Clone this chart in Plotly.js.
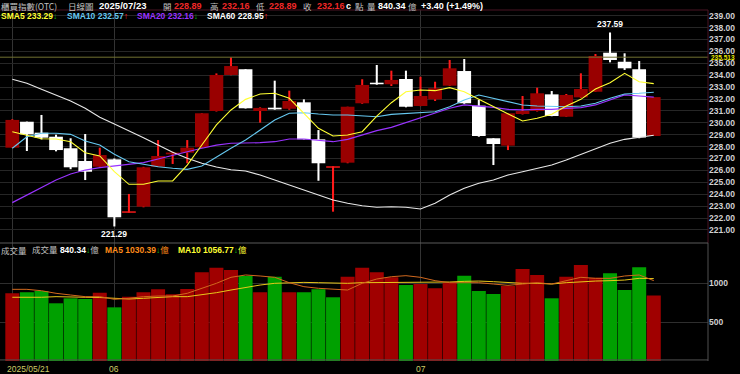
<!DOCTYPE html>
<html>
<head>
<meta charset="utf-8">
<script src="https://cdn.plot.ly/plotly-3.0.1.min.js"></script>
<style>html,body{margin:0;padding:0;background:#000;}#chart{width:740px;height:374px;}</style>
</head>
<body>
<div id="chart"></div>
<script>
// ---------- DATA ----------
const dates = [
  "2025/05/21","2025/05/22","2025/05/23","2025/05/26","2025/05/27","2025/05/28","2025/05/29",
  "2025/06/02","2025/06/03","2025/06/04","2025/06/05","2025/06/06","2025/06/09","2025/06/10",
  "2025/06/11","2025/06/12","2025/06/13","2025/06/16","2025/06/17","2025/06/18","2025/06/19",
  "2025/06/20","2025/06/23","2025/06/24","2025/06/25","2025/06/26","2025/06/27","2025/06/30",
  "2025/07/01","2025/07/02","2025/07/03","2025/07/04","2025/07/07","2025/07/08","2025/07/09",
  "2025/07/10","2025/07/11","2025/07/14","2025/07/15","2025/07/16","2025/07/17","2025/07/18",
  "2025/07/21","2025/07/22","2025/07/23"
];
const open  = [227.91,230.09,229.17,228.83,227.86,226.79,226.31,226.93,222.45,222.95,226.31,227.35,227.49,227.94,
  230.99,234.02,234.50,230.99,231.27,231.18,231.72,228.61,226.25,226.65,231.64,233.37,233.24,233.68,
  231.41,231.97,233.12,234.35,231.44,228.70,228.08,230.74,230.99,232.39,230.51,232.14,232.61,235.89,
  235.13,234.50,228.89];
const high  = [230.30,230.10,230.66,229.00,228.70,229.06,227.91,227.00,224.02,226.30,228.55,227.57,228.55,230.80,
  234.15,235.50,234.50,231.30,233.54,232.70,231.97,229.39,226.35,231.35,233.66,234.86,234.38,234.38,
  233.87,233.45,235.28,235.36,231.92,228.70,230.80,232.25,232.95,232.67,232.42,234.16,235.78,237.59,
  235.84,235.19,232.16];
const low   = [227.90,227.63,228.60,227.60,226.10,225.19,226.30,221.29,222.45,222.90,226.30,226.54,226.60,227.90,
  230.95,234.00,231.20,230.01,231.10,231.10,228.60,225.13,222.53,226.60,231.60,233.20,233.09,231.30,
  231.40,231.83,233.10,231.60,228.83,226.45,227.71,230.70,230.95,230.55,230.50,232.10,232.60,235.08,
  234.44,228.70,228.89];
const close = [230.24,229.03,228.75,227.71,226.26,225.89,227.29,222.06,222.55,226.26,227.21,227.50,227.91,230.80,
  234.02,234.77,231.22,231.25,231.13,231.83,228.61,226.60,226.32,231.35,233.18,233.24,233.60,231.35,
  232.25,232.90,234.58,231.64,228.89,228.22,230.80,230.99,232.48,230.57,232.34,232.84,235.61,235.28,
  234.58,228.76,232.16];

const sma5  = [229.25,228.97,228.66,228.64,228.41,227.49,227.21,225.89,224.83,224.83,225.11,225.11,226.45,228.13,
  229.82,231.08,231.97,232.42,232.48,232.06,230.80,229.54,228.89,228.97,229.25,230.57,231.69,232.61,
  232.76,232.70,232.95,232.61,231.97,231.35,230.71,230.15,230.38,230.71,231.41,231.97,232.84,233.37,
  234.16,233.45,233.29];
const sma10 = [227.86,228.83,229.12,229.12,229.03,228.47,228.13,227.35,226.73,226.51,226.31,226.18,226.09,226.37,
  227.15,227.86,228.55,229.39,230.24,230.80,230.85,230.74,230.66,230.66,230.60,230.51,230.71,230.80,
  230.85,230.93,231.35,231.92,232.34,232.06,231.77,231.50,231.41,231.35,231.35,231.41,231.64,232.06,
  232.42,232.48,232.57];
const sma20 = [223.29,223.93,224.58,225.19,225.70,226.03,226.23,226.37,226.54,226.65,226.96,227.29,227.57,227.86,
  228.13,228.28,228.28,228.33,228.41,228.64,228.64,228.55,228.41,228.61,228.97,229.34,229.62,230.01,
  230.38,230.80,231.22,231.50,231.41,231.30,231.13,231.08,231.13,231.13,231.22,231.27,231.50,231.92,
  232.34,232.25,232.16];
const sma60 = [233.66,233.32,232.82,232.34,231.83,231.22,230.46,229.90,229.34,228.75,228.13,227.52,227.02,226.60,
  226.29,226.06,225.95,225.61,225.19,224.77,224.35,223.93,223.51,223.24,223.03,222.90,222.95,222.90,
  222.76,223.24,223.93,224.50,224.92,225.19,225.61,225.89,226.18,226.45,226.87,227.35,227.86,228.28,
  228.61,228.75,228.95];

const volume = [870,880,897,740,804,795,876,688,825,880,919,855,923,1137,1197,1167,1090,880,1081,880,880,919,817,
  1081,1197,1137,1073,974,987,932,1004,1094,897,859,962,1179,1103,804,1081,1231,1068,1124,910,1201,840.34];
const volUp  = [1,0,0,0,0,0,1,0,1,1,1,1,1,1,1,1,0,1,0,1,0,0,0,1,1,1,1,0,1,1,1,0,0,0,1,1,1,0,1,1,1,0,0,0,1];
const volMa5 = [919,919,901,868,846,825,825,791,804,825,833,833,868,932,996,1073,1103,1090,1073,1004,953,932,919,
  910,996,1051,1081,1094,1073,1030,1004,1004,1004,987,970,987,1004,987,1030,1073,1060,1060,1090,1103,1030.39];
const volMa10 = [817,814,817,825,825,817,814,804,795,804,817,825,825,846,876,910,945,974,996,1004,1008,1004,1000,
  996,1004,1004,1013,1013,1004,1004,1013,1021,1025,1017,1004,996,996,987,1004,1017,1025,1030,1038,1060,1056.77];

const priceTicks = [221,222,223,224,225,226,227,228,229,230,231,232,233,234,235,236,237,238,239];
const volTicks = [500, 1000];
const dateTicks = ["2025/05/21","2025/06/02","2025/07/01"];
const dateTickText = ["2025/05/21","06","07"];
const refLine = 235.513;
const highMark = {date:"2025/07/18", value:237.59};
const lowMark = {date:"2025/06/02", value:221.29};

// ---------- derived drawing arrays ----------
const MINB = 0.12;
const bodyBase = open.map((o,i)=>{const d=Math.abs(close[i]-o);return Math.min(o,close[i]) - (d<MINB?(MINB-d)/2:0);});
const bodyH = open.map((o,i)=>Math.max(Math.abs(close[i]-o), MINB));
const bodyColor = open.map((o,i)=> close[i]>=o ? (Math.abs(close[i]-o)<0.15 ? '#ff1a1a' : '#990000') : '#ffffff');
const wickColor = open.map((o,i)=> close[i]>=o ? '#ff1a1a' : '#ffffff');
const wickH = high.map((h,i)=>h-low[i]);
const volColor = volUp.map(u=>u?'#a00000':'#00a000');

const FONT = 'Liberation Sans, Arial, Noto Sans CJK TC, sans-serif';
const CJK = 'Noto Sans CJK TC, Liberation Sans, sans-serif';

const traces = [
  {type:'bar', x:dates, y:wickH, base:low, width:0.14, marker:{color:wickColor, line:{width:0}}, xaxis:'x', yaxis:'y', hoverinfo:'skip'},
  {type:'bar', x:dates, y:bodyH, base:bodyBase, width:0.94, marker:{color:bodyColor, line:{width:0}}, xaxis:'x', yaxis:'y', hoverinfo:'skip'},
  {type:'scatter', mode:'lines', x:dates, y:sma60, line:{color:'#e8e8e8', width:1.1}, xaxis:'x', yaxis:'y'},
  {type:'scatter', mode:'lines', x:dates, y:sma20, line:{color:'#9933ff', width:1.2}, xaxis:'x', yaxis:'y'},
  {type:'scatter', mode:'lines', x:dates, y:sma10, line:{color:'#66c8f0', width:1.1}, xaxis:'x', yaxis:'y'},
  {type:'scatter', mode:'lines', x:dates, y:sma5, line:{color:'#ffff33', width:1.1}, xaxis:'x', yaxis:'y'},
  {type:'bar', x:dates, y:volume, width:0.96, marker:{color:volColor, line:{width:0}}, xaxis:'x', yaxis:'y2', hoverinfo:'skip'},
  {type:'scatter', mode:'lines', x:dates, y:volMa10, line:{color:'#e8c81a', width:1}, xaxis:'x', yaxis:'y2'},
  {type:'scatter', mode:'lines', x:dates, y:volMa5, line:{color:'#d2691e', width:1}, xaxis:'x', yaxis:'y2'}
];

// pixel helpers for header annotations (plot area: x 0..708, y 10..361)
const PW = 708, PB = 361, PH = 351;
function ann(xpx, ypx, text, color, size, bold, family){
  return {xref:'paper', yref:'paper', x:xpx/PW, y:(PB-ypx)/PH, xanchor:'left', yanchor:'middle',
    text:text, showarrow:false, borderpad:0,
    font:{family:family||FONT, size:size, color:color, weight: bold?'bold':'normal'}};
}
const RED = '#f02828', GRAY = '#c0c0c0', GRN = '#10c010', UPR = '#ff2020';
const L1 = 5.5, L2 = 16.5, NS = 9, CS = 8.5;
const annotations = [
  ann(0, L1, '櫃買指數(OTC)', GRAY, CS, false, CJK),
  ann(67, L1, '日線圖', GRAY, CS, false, CJK),
  ann(98, L1, '2025/07/23', '#ffffff', 9.5, true),
  ann(162, L1, '開', GRAY, CS, false, CJK),
  ann(173, L1, open[44].toFixed(2), RED, NS, true),
  ann(209, L1, '高', GRAY, CS, false, CJK),
  ann(221, L1, high[44].toFixed(2), RED, NS, true),
  ann(255, L1, '低', GRAY, CS, false, CJK),
  ann(268, L1, low[44].toFixed(2), RED, NS, true),
  ann(302, L1, '收', GRAY, CS, false, CJK),
  ann(316, L1, close[44].toFixed(2), RED, NS, true),
  ann(345, L1, 'c', '#ffffff', NS, true),
  ann(354, L1, '點', GRAY, CS, false, CJK),
  ann(366, L1, '量', GRAY, CS, false, CJK),
  ann(377, L1, volume[44].toFixed(2), '#ffffff', NS, true),
  ann(407, L1, '億', GRAY, CS, false, CJK),
  ann(420, L1, '+3.40 (+1.49%)', '#ffffff', NS, true),

  ann(0, L2, 'SMA5 '+sma5[44].toFixed(2)+'<span style="color:'+GRN+'">↓</span>', '#ffff33', 8.5, true),
  ann(66, L2, 'SMA10 '+sma10[44].toFixed(2)+'<span style="color:'+UPR+'">↑</span>', '#66c8f0', 8.5, true),
  ann(136, L2, 'SMA20 '+sma20[44].toFixed(2)+'<span style="color:'+GRN+'">↓</span>', '#9933ff', 8.5, true),
  ann(206, L2, 'SMA60 '+sma60[44].toFixed(2)+'<span style="color:'+UPR+'">↑</span>', '#ffffff', 8.5, true),

  ann(0, 250, '成交量', GRAY, 8.5, false, CJK),
  ann(31, 250, '成交量 <span style="color:#ffffff;font-weight:bold">'+volume[44].toFixed(2)+'</span><span style="color:'+GRN+'">↓</span>億', GRAY, 8.5, false),
  ann(104, 250, '<b>MA5 '+volMa5[44].toFixed(2)+'</b><span style="color:'+GRN+'">↓</span>億', '#ff8c1a', 8.5, false),
  ann(177, 250, '<b>MA10 '+volMa10[44].toFixed(2)+'</b><span style="color:'+GRN+'">↓</span>億', '#ffff33', 8.5, false),

  // date labels
  {xref:'x', yref:'paper', x:-0.5, y:(PB-369)/PH, xanchor:'left', yanchor:'middle', text:dateTickText[0], showarrow:false,
   font:{family:FONT, size:8.5, color:'#cccc66'}},
  {xref:'x', yref:'paper', x:dateTicks[1], y:(PB-369)/PH, xanchor:'center', yanchor:'middle', text:dateTickText[1], showarrow:false,
   font:{family:FONT, size:8.5, color:'#cccc66'}},
  {xref:'x', yref:'paper', x:dateTicks[2], y:(PB-369)/PH, xanchor:'center', yanchor:'middle', text:dateTickText[2], showarrow:false,
   font:{family:FONT, size:8.5, color:'#cccc66'}},

  // high / low marks
  {xref:'x', yref:'y', x:highMark.date, y:highMark.value, yanchor:'bottom', text:highMark.value.toFixed(2), showarrow:false, yshift:1,
   font:{family:FONT, size:8.5, color:'#ffffff', weight:'bold'}},
  {xref:'x', yref:'y', x:lowMark.date, y:lowMark.value, yanchor:'top', text:lowMark.value.toFixed(2), showarrow:false, yshift:-1,
   font:{family:FONT, size:8.5, color:'#ffffff', weight:'bold'}},
  // reference line label
  {xref:'paper', yref:'y', x:1, xshift:1, y:refLine, xanchor:'left', yanchor:'middle', text:String(refLine), showarrow:false,
   font:{family:FONT, size:6.5, color:'#e6e600', weight:'bold'}}
];

const VD = (PB-243)/PH; // volume domain top
const layout = {
  width:740, height:374,
  margin:{l:0, r:32, t:10, b:13},
  paper_bgcolor:'#000', plot_bgcolor:'#000',
  showlegend:false, barmode:'overlay', hovermode:false,
  xaxis:{type:'category', range:[-0.844, 47.72], anchor:'y2', showticklabels:false, ticks:'',
    tickvals:dateTicks, showgrid:true, gridcolor:'#333333', gridwidth:1, zeroline:false, showline:false, fixedrange:true},
  yaxis:{domain:[VD, 1], range:[219.899, 239.479], side:'right', tickvals:priceTicks,
    ticktext:priceTicks.map(v=>v.toFixed(2)), ticks:'', showgrid:true, gridcolor:'#262626', zeroline:false,
    showline:false, tickfont:{family:FONT, size:8.5, color:'#d0d0d0', weight:'bold'}, fixedrange:true},
  yaxis2:{domain:[0, VD], range:[0, 1513], side:'right', tickvals:volTicks, ticks:'', showgrid:true,
    gridcolor:'#2e2e2e', zeroline:false, showline:false,
    tickfont:{family:FONT, size:8.5, color:'#d0d0d0', weight:'bold'}, fixedrange:true},
  shapes:[
    {type:'line', xref:'paper', yref:'y', x0:0, x1:1, y0:refLine, y1:refLine, line:{color:'#707030', width:1}},
    {type:'line', xref:'paper', yref:'paper', x0:0, x1:1, y0:1, y1:1, line:{color:'#4a1424', width:1}},
    {type:'line', xref:'paper', yref:'paper', x0:1, x1:1, y0:VD, y1:1, line:{color:'#4a1424', width:1}},
    {type:'line', xref:'paper', yref:'paper', x0:1, x1:1, y0:0, y1:VD, line:{color:'#505050', width:1}},
    {type:'line', xref:'paper', yref:'paper', x0:0, x1:1, y0:VD, y1:VD, line:{color:'#5a5a5a', width:1}},
    {type:'line', xref:'paper', yref:'paper', x0:0, x1:1, y0:0.003, y1:0.003, line:{color:'#505050', width:1}}
  ],
  annotations:annotations
};

Plotly.newPlot('chart', traces, layout, {displayModeBar:false, staticPlot:true});
</script>
</body>
</html>
